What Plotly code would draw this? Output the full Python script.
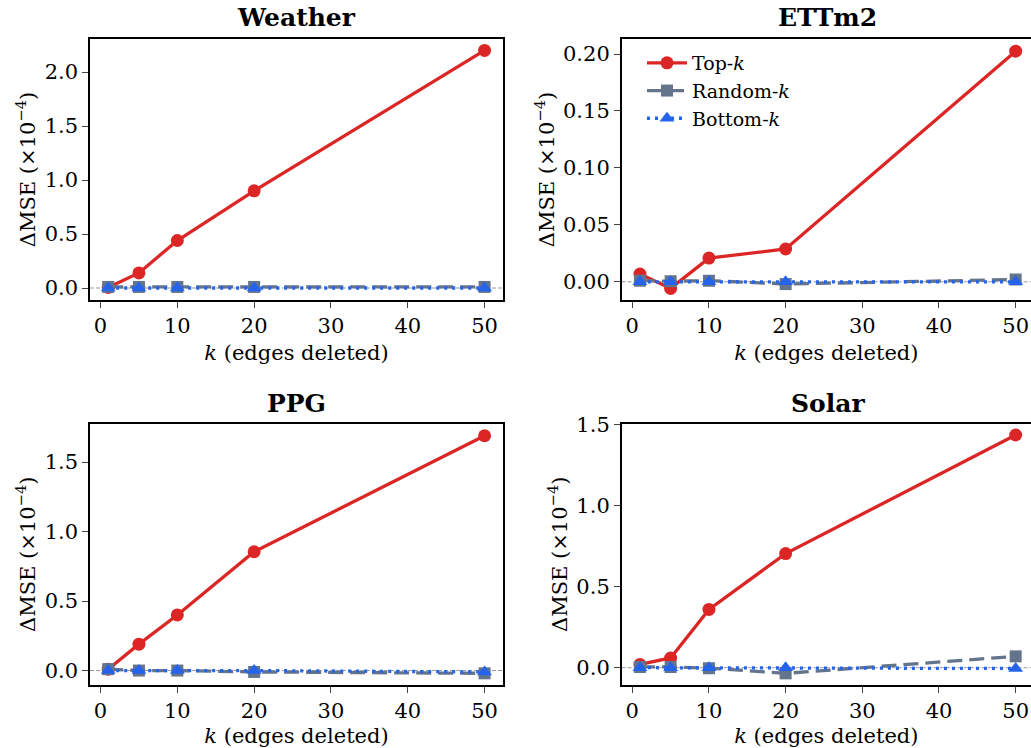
import plotly.graph_objects as go

k_values = [1, 5, 10, 20, 50]
panels = ["Weather", "ETTm2", "PPG", "Solar"]

weather_top = [0.005, 0.14, 0.44, 0.90, 2.20]
weather_random = [0.01, 0.01, 0.01, 0.01, 0.01]
weather_bottom = [0.0, 0.0, 0.0, 0.0, 0.0]

ettm2_top = [0.0068, -0.0058, 0.0208, 0.0288, 0.2025]
ettm2_random = [0.001, 0.0005, 0.001, -0.002, 0.002]
ettm2_bottom = [0.0, 0.0, 0.0, 0.0, 0.0]

ppg_top = [0.01, 0.19, 0.40, 0.855, 1.69]
ppg_random = [0.01, 0.0, 0.0, -0.01, -0.02]
ppg_bottom = [0.0, 0.0, 0.0, 0.0, -0.01]

solar_top = [0.02, 0.06, 0.36, 0.705, 1.438]
solar_random = [0.005, 0.005, -0.003, -0.035, 0.07]
solar_bottom = [0.0, 0.0, 0.0, 0.0, -0.005]

series = {
    "Weather": (weather_top, weather_random, weather_bottom),
    "ETTm2": (ettm2_top, ettm2_random, ettm2_bottom),
    "PPG": (ppg_top, ppg_random, ppg_bottom),
    "Solar": (solar_top, solar_random, solar_bottom),
}

W, H = 1031, 748


def fx(px):
    return px / W


def fy(py):
    return 1 - py / H


x_dom = {"Weather": (90, 503), "ETTm2": (621.7, 1031), "PPG": (90, 503), "Solar": (621.7, 1031)}
y_dom = {"Weather": (39, 300), "ETTm2": (39, 300), "PPG": (423.5, 685), "Solar": (423.5, 685)}
x_rng = {"Weather": [-1.37, 52.4], "ETTm2": [-1.38, 52.0], "PPG": [-1.37, 52.4], "Solar": [-1.38, 52.0]}
y_rng = {"Weather": [-0.111, 2.306], "ETTm2": [-0.016, 0.2132], "PPG": [-0.104, 1.778], "Solar": [-0.107, 1.509]}
y_dtick = {"Weather": 0.5, "ETTm2": 0.05, "PPG": 0.5, "Solar": 0.5}
y_fmt = {"Weather": ".1f", "ETTm2": ".2f", "PPG": ".1f", "Solar": ".1f"}
title_y = {"Weather": 18, "ETTm2": 18, "PPG": 403, "Solar": 403}

RED = "#dc2626"
GRAY = "#64748b"
BLUE = "#2563eb"
FONT = "DejaVu Serif"
TICK = 21

fig = go.Figure()
layout = dict(
    width=W, height=H, margin=dict(l=0, r=0, t=0, b=0, autoexpand=False),
    paper_bgcolor="white", plot_bgcolor="white",
    font=dict(family=FONT, size=TICK, color="black"),
    showlegend=True,
    legend=dict(x=fx(642), y=fy(44), xanchor="left", yanchor="top",
                bgcolor="rgba(255,255,255,0)", font=dict(size=19, family=FONT),
                itemwidth=40, tracegroupgap=0),
)
shapes = []
annotations = []

for i, name in enumerate(panels):
    sfx = "" if i == 0 else str(i + 1)
    xa, ya = "x" + sfx, "y" + sfx
    top, rnd, bot = series[name]
    leg = name == "ETTm2"
    fig.add_trace(go.Scatter(x=k_values, y=top, xaxis=xa, yaxis=ya, mode="lines+markers",
                             name="Top-<i>k</i>", showlegend=leg, legendgroup="top",
                             line=dict(color=RED, width=3.3),
                             marker=dict(symbol="circle", size=13, color=RED)))
    fig.add_trace(go.Scatter(x=k_values, y=rnd, xaxis=xa, yaxis=ya, mode="lines+markers",
                             name="Random-<i>k</i>", showlegend=leg, legendgroup="rnd",
                             line=dict(color=GRAY, width=3.3, dash="15px,7px"),
                             marker=dict(symbol="square", size=12, color=GRAY)))
    fig.add_trace(go.Scatter(x=k_values, y=bot, xaxis=xa, yaxis=ya, mode="lines+markers",
                             name="Bottom-<i>k</i>", showlegend=leg, legendgroup="bot",
                             line=dict(color=BLUE, width=3.3, dash="3px,5px"),
                             marker=dict(symbol="triangle-up", size=13, color=BLUE)))

    x0, x1 = x_dom[name]
    yt, yb = y_dom[name]
    right_cut = x1 >= W
    layout["xaxis" + sfx] = dict(
        domain=[fx(x0), min(fx(x1), 1.0)], range=x_rng[name], anchor=ya, automargin=False,
        tickmode="linear", tick0=0, dtick=10, ticks="outside", ticklen=6, tickwidth=1.3,
        showline=True, linecolor="black", linewidth=1.5, mirror=True,
        showgrid=False, zeroline=False,
        tickfont=dict(size=TICK, family=FONT),
        title=dict(text="<i>k</i> (edges deleted)", font=dict(size=TICK, family=FONT), standoff=8),
    )
    layout["yaxis" + sfx] = dict(
        domain=[fy(yb), fy(yt)], range=y_rng[name], anchor=xa, automargin=False,
        tickmode="linear", tick0=0, dtick=y_dtick[name], tickformat=y_fmt[name],
        ticks="outside", ticklen=6, tickwidth=1.3,
        showline=True, linecolor="black", linewidth=1.5, mirror=not right_cut,
        showgrid=False, zeroline=False,
        tickfont=dict(size=TICK, family=FONT),
        title=dict(text="ΔMSE (×10<sup>−4</sup>)", font=dict(size=TICK, family=FONT), standoff=3),
    )
    shapes.append(dict(type="line", xref=xa + " domain", yref=ya, x0=0, x1=1, y0=0, y1=0,
                       line=dict(color="#9a9a9a", width=1, dash="4px,2px"), layer="below"))
    cx = (x0 + (1034 if right_cut else x1)) / 2
    annotations.append(dict(text="<b>" + name + "</b>", x=fx(cx), y=fy(title_y[name]),
                            xref="paper", yref="paper", xanchor="center", yanchor="middle",
                            showarrow=False, font=dict(size=25, family=FONT)))

layout["shapes"] = shapes
layout["annotations"] = annotations
fig.update_layout(**layout)
# remove the browser's default 8px body margin so the figure fills the 1031x748 window
fig.write_html("out.html", config={"displayModeBar": False},
               post_script="document.body.style.margin='0px';document.body.style.overflow='hidden';")
